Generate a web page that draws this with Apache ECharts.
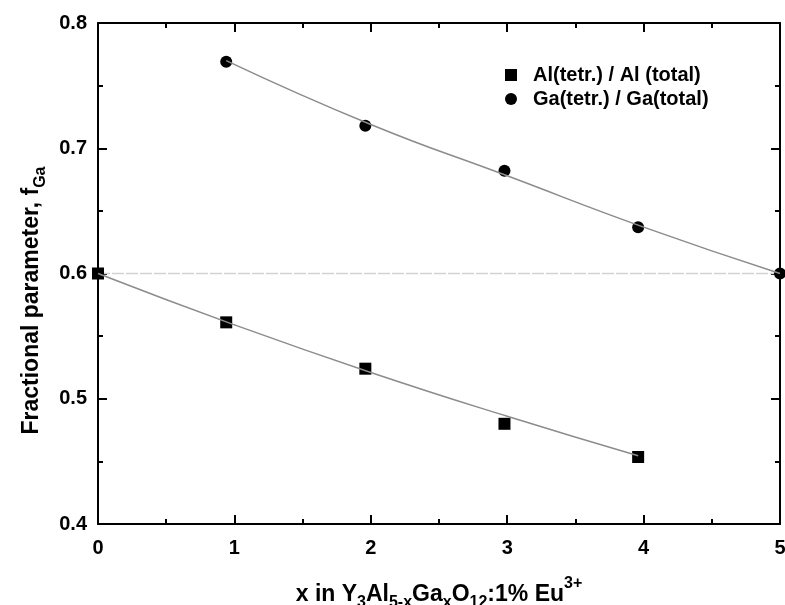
<!DOCTYPE html>
<html>
<head>
<meta charset="utf-8">
<script src="https://cdn.jsdelivr.net/npm/echarts@6/dist/echarts.min.js"></script>
<style>
html,body{margin:0;padding:0;background:#fff;}
#chart{width:785px;height:605px;}
</style>
</head>
<body>
<div id="chart"></div>
<script>
// Measured data points
const alX = [0, 0.94, 1.96, 2.98, 3.96];
const alY = [0.600, 0.561, 0.524, 0.480, 0.4535];
const gaX = [0.94, 1.96, 2.98, 3.96, 5];
const gaY = [0.769, 0.718, 0.682, 0.637, 0.600];
// Fit curves
const fitAlX = [0, 1, 2, 3, 3.96];
const fitAlY = [0.600, 0.559, 0.521, 0.486, 0.4545];
const fitGaX = [0.94, 2, 3, 4, 5];
const fitGaY = [0.770, 0.719, 0.678, 0.637, 0.600];
// Reference line
const refX = [0, 5];
const refY = [0.6, 0.6];
const seriesNames = ['Al(tetr.) / Al (total)', 'Ga(tetr.) / Ga(total)'];

const zip = (xs, ys) => xs.map((x, i) => [x, ys[i]]);
const FONT = 'Liberation Sans, Arial, sans-serif';

const chart = echarts.init(document.getElementById('chart'), null, {renderer: 'canvas'});

function axisBase(extra) {
  return Object.assign({
    type: 'value',
    axisLine: {show: true, onZero: false, lineStyle: {color: '#000', width: 2}},
    axisTick: {show: true, inside: true, length: 9, lineStyle: {color: '#000', width: 2}},
    minorTick: {show: true, splitNumber: 2, length: 5, lineStyle: {color: '#000', width: 2}},
    splitLine: {show: false},
    minorSplitLine: {show: false}
  }, extra);
}

const mainStyle = {fontSize: 23, fontWeight: 'bold', fontFamily: FONT, color: '#000', lineHeight: 23, padding: [7, 0, 5, 0], verticalAlign: 'top'};
const subStyle = {fontSize: 16, fontWeight: 'bold', fontFamily: FONT, color: '#000', lineHeight: 16, padding: [19, 0, 0, 0], verticalAlign: 'top'};
const supStyle = {fontSize: 16, fontWeight: 'bold', fontFamily: FONT, color: '#000', lineHeight: 16, padding: [0, 0, 19, 0], verticalAlign: 'top'};

const option = {
  backgroundColor: '#fff',
  animation: false,
  grid: {left: 98, right: 5, top: 23, bottom: 81, containLabel: false, outerBoundsMode: 'none'},
  legend: {
    orient: 'vertical',
    left: 500,
    top: 60,
    itemWidth: 12,
    itemHeight: 12,
    itemGap: 4,
    data: [
      {name: seriesNames[0], icon: 'rect'},
      {name: seriesNames[1], icon: 'circle'}
    ],
    textStyle: {fontSize: 20, fontWeight: 'bold', fontFamily: FONT, color: '#000', padding: [0, 0, 0, 11]}
  },
  xAxis: [
    axisBase({
      min: 0, max: 5, interval: 1, position: 'bottom',
      axisLabel: {fontSize: 20, fontWeight: 'bold', fontFamily: FONT, color: '#000', margin: 14},
      name: '{a|x in Y}{s|3}{a|Al}{s|5-x}{a|Ga}{s|x}{a|O}{s|12}{a|:1% Eu}{p|3+}',
      nameLocation: 'middle',
      nameGap: 52,
      nameTextStyle: {rich: {a: mainStyle, s: subStyle, p: supStyle}}
    }),
    axisBase({
      min: 0, max: 5, interval: 1, position: 'top',
      axisLabel: {show: false}
    })
  ],
  yAxis: [
    axisBase({
      min: 0.4, max: 0.8, interval: 0.1, position: 'left',
      axisLabel: {fontSize: 20, fontWeight: 'bold', fontFamily: FONT, color: '#000', margin: 11,
        formatter: v => v.toFixed(1)},
      name: '{a|Fractional parameter, f}{s|Ga}',
      nameLocation: 'middle',
      nameGap: 52,
      nameTextStyle: {padding: [0, 54, 0, 0], rich: {a: mainStyle, s: subStyle}}
    }),
    axisBase({
      min: 0.4, max: 0.8, interval: 0.1, position: 'right',
      axisLabel: {show: false}
    })
  ],
  series: [
    {
      name: 'ref', type: 'line', silent: true, symbol: 'none',
      data: zip(refX, refY),
      lineStyle: {color: '#d2d2d2', width: 1.5, type: [12, 2]},
      z: 1
    },
    {
      name: 'fitAl', type: 'line', silent: true, symbol: 'none', smooth: true,
      data: zip(fitAlX, fitAlY),
      lineStyle: {color: '#8c8c8c', width: 1.5},
      z: 3
    },
    {
      name: 'fitGa', type: 'line', silent: true, symbol: 'none', smooth: true,
      data: zip(fitGaX, fitGaY),
      lineStyle: {color: '#8c8c8c', width: 1.5},
      z: 3
    },
    {
      name: seriesNames[0], type: 'scatter', symbol: 'rect', symbolSize: 12,
      data: zip(alX, alY),
      itemStyle: {color: '#000', opacity: 1},
      z: 2
    },
    {
      name: seriesNames[1], type: 'scatter', symbol: 'circle', symbolSize: 12,
      data: zip(gaX, gaY),
      itemStyle: {color: '#000', opacity: 1},
      z: 2
    }
  ]
};
chart.setOption(option);
</script>
</body>
</html>
